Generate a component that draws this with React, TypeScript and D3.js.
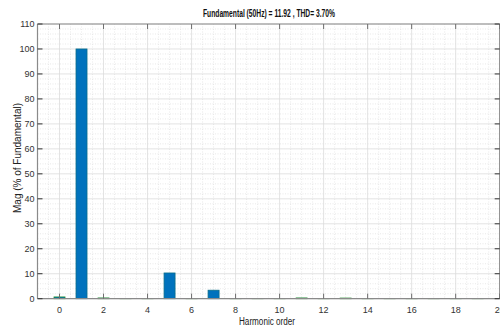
import React, { useRef, useEffect } from 'react';
import * as d3 from 'd3';

// harmonic spectrum
const harmonics = [0, 1, 2, 3, 4, 5, 6, 7, 8, 9, 10, 11, 12, 13, 14, 15, 16, 17, 18, 19];
const magnitudes = [0.7, 100, 0.3, 0.05, 0.05, 10.3, 0.05, 3.4, 0.05, 0.05, 0.05, 0.3, 0.05, 0.25, 0.05, 0.05, 0.05, 0.05, 0.05, 0.05];
const xTicks = [0, 2, 4, 6, 8, 10, 12, 14, 16, 18, 20];
const yTicks = [0, 10, 20, 30, 40, 50, 60, 70, 80, 90, 100, 110];
const title = 'Fundamental (50Hz) = 11.92 , THD= 3.70%';

const W = 500;
const H = 329;

const HarmonicChart = () => {
  const ref = useRef<SVGSVGElement>(null);

  useEffect(() => {
    const svg = d3.select(ref.current);
    svg.selectAll('*').remove();

    const left = 37.5, right = 499.7, top = 24, bottom = 298.7;
    const font = "'Liberation Sans Narrow', 'Arial Narrow', 'Liberation Sans', sans-serif";

    const x = d3.scaleLinear().domain([-1, 20]).range([left, right]);
    const y = d3.scaleLinear().domain([0, 110]).range([bottom, top]);

    svg.append('rect').attr('width', W).attr('height', H).attr('fill', '#fff');

    const g = svg.append('g');

    // minor grid
    const xMinor = d3.range(-1, 20.01, 0.5).filter(v => v % 2 !== 0);
    const yMinor = d3.range(0, 110.01, 2).filter(v => v % 10 !== 0);
    g.selectAll('.xmin').data(xMinor).enter().append('line')
      .attr('x1', d => x(d)).attr('x2', d => x(d)).attr('y1', top).attr('y2', bottom)
      .attr('stroke', '#e3e3e3').attr('stroke-width', 0.8).attr('stroke-dasharray', '1,1.5');
    g.selectAll('.ymin').data(yMinor).enter().append('line')
      .attr('x1', left).attr('x2', right).attr('y1', d => y(d)).attr('y2', d => y(d))
      .attr('stroke', '#e3e3e3').attr('stroke-width', 0.8).attr('stroke-dasharray', '1,1.5');

    // major grid
    g.selectAll('.xmaj').data(xTicks).enter().append('line')
      .attr('x1', d => x(d)).attr('x2', d => x(d)).attr('y1', top).attr('y2', bottom)
      .attr('stroke', '#dcdcdc').attr('stroke-width', 0.8);
    g.selectAll('.ymaj').data(yTicks).enter().append('line')
      .attr('x1', left).attr('x2', right).attr('y1', d => y(d)).attr('y2', d => y(d))
      .attr('stroke', '#dcdcdc').attr('stroke-width', 0.8);

    // bars
    const bw = x(0.5) - x(0);
    g.selectAll('.bar').data(harmonics).enter().append('rect')
      .attr('x', d => x(d) - bw / 2)
      .attr('y', (d, i) => y(magnitudes[i]))
      .attr('width', bw)
      .attr('height', (d, i) => bottom - y(magnitudes[i]))
      .attr('fill', '#0072bd')
      .attr('stroke', (d, i) => magnitudes[i] > 1 ? '#0a6e8a' : '#1f8a2a')
      .attr('stroke-width', 0.8);

    // axes box
    const axisColor = '#8a8a8a';
    g.append('line').attr('x1', left).attr('x2', right).attr('y1', bottom).attr('y2', bottom)
      .attr('stroke', axisColor).attr('stroke-width', 1.2);
    g.append('line').attr('x1', left).attr('x2', left).attr('y1', top).attr('y2', bottom)
      .attr('stroke', axisColor).attr('stroke-width', 1.2);
    g.append('line').attr('x1', left).attr('x2', right).attr('y1', top).attr('y2', top)
      .attr('stroke', axisColor).attr('stroke-width', 1.2);
    g.append('line').attr('x1', right).attr('x2', right).attr('y1', top).attr('y2', bottom)
      .attr('stroke', axisColor).attr('stroke-width', 1.2);

    // tick marks, inward on all four sides
    const tl = 5;
    g.selectAll('.xtb').data(xTicks).enter().append('line')
      .attr('x1', d => x(d)).attr('x2', d => x(d)).attr('y1', bottom).attr('y2', bottom - tl)
      .attr('stroke', '#6e6e6e').attr('stroke-width', 1);
    g.selectAll('.xtt').data(xTicks).enter().append('line')
      .attr('x1', d => x(d)).attr('x2', d => x(d)).attr('y1', top).attr('y2', top + tl)
      .attr('stroke', '#6e6e6e').attr('stroke-width', 1);
    g.selectAll('.ytl').data(yTicks).enter().append('line')
      .attr('x1', left).attr('x2', left + tl).attr('y1', d => y(d)).attr('y2', d => y(d))
      .attr('stroke', '#333').attr('stroke-width', 1);
    g.selectAll('.ytr').data(yTicks).enter().append('line')
      .attr('x1', right).attr('x2', right - tl).attr('y1', d => y(d)).attr('y2', d => y(d))
      .attr('stroke', '#333').attr('stroke-width', 1);

    // tick labels
    g.selectAll('.xl').data(xTicks).enter().append('text')
      .attr('x', d => x(d)).attr('y', bottom + 14)
      .attr('text-anchor', 'middle')
      .attr('font-family', font).attr('font-size', 9).attr('fill', '#333')
      .text(d => d);
    g.selectAll('.yl').data(yTicks).enter().append('text')
      .attr('x', left - 3).attr('y', d => y(d) + 3)
      .attr('text-anchor', 'end')
      .attr('font-family', font).attr('font-size', 9).attr('fill', '#333')
      .text(d => d);

    // title and axis labels
    svg.append('text')
      .attr('x', 269).attr('y', 17)
      .attr('text-anchor', 'middle')
      .attr('font-family', font).attr('font-size', 10).attr('font-weight', 'bold').attr('fill', '#111')
      .attr('textLength', 132).attr('lengthAdjust', 'spacingAndGlyphs')
      .text(title);
    svg.append('text')
      .attr('x', 267).attr('y', 325)
      .attr('text-anchor', 'middle')
      .attr('font-family', font).attr('font-size', 10).attr('fill', '#222')
      .attr('textLength', 56).attr('lengthAdjust', 'spacingAndGlyphs')
      .text('Harmonic order');
    svg.append('text')
      .attr('transform', 'translate(21,158) rotate(-90)')
      .attr('text-anchor', 'middle')
      .attr('font-family', "'Liberation Sans', Arial, sans-serif").attr('font-size', 10).attr('fill', '#222')
      .attr('textLength', 110).attr('lengthAdjust', 'spacingAndGlyphs')
      .text('Mag (% of Fundamental)');
  }, []);

  return (
    <div style={{ position: 'absolute', left: 0, top: 0 }}>
      <svg ref={ref} width={W} height={H} style={{ display: 'block' }}></svg>
    </div>
  );
};

export default function App() {
  return <HarmonicChart />;
}
